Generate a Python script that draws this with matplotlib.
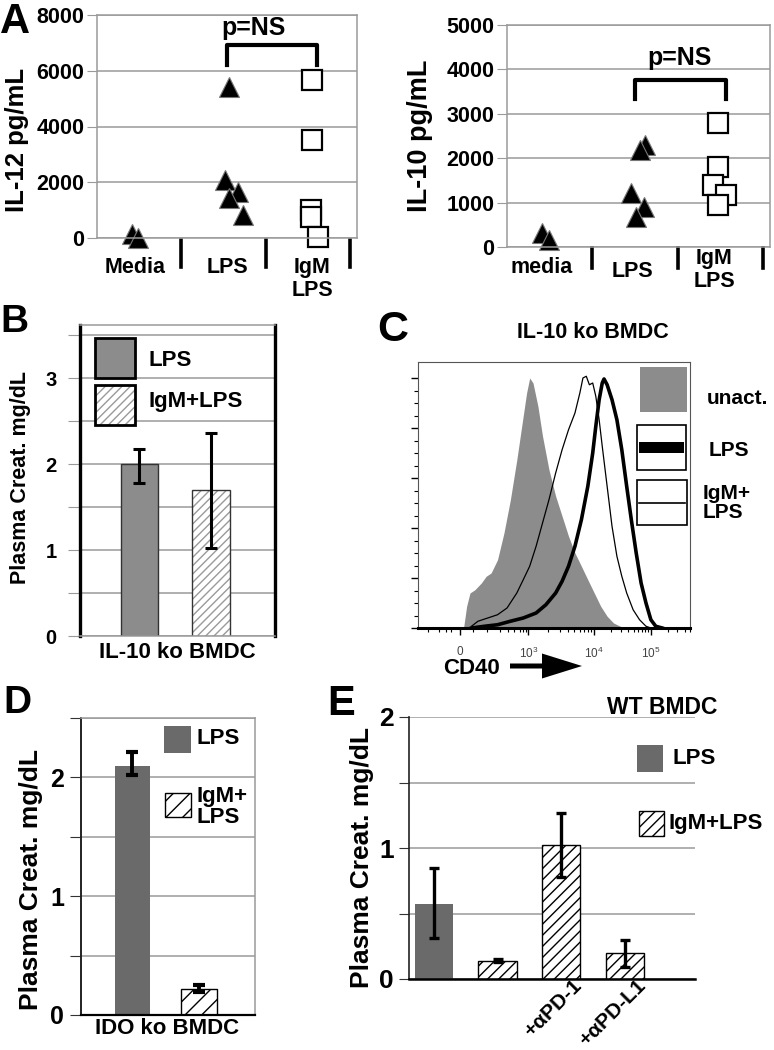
import matplotlib
matplotlib.use("Agg")
import matplotlib.pyplot as plt
import numpy as np
from matplotlib.patches import Rectangle, FancyArrow
from matplotlib.transforms import blended_transform_factory

plt.rcParams['font.family'] = ['Liberation Sans', 'DejaVu Sans']
plt.rcParams['font.weight'] = 'bold'
plt.rcParams['hatch.linewidth'] = 1.0

W, H = 774, 1050

# ---------------- data ----------------
# A: IL-12 (pg/mL), x = category position with the jitter seen in the figure
a1_cats = ['Media', 'LPS', 'IgM\nLPS']
a1_tri_x = [0.91, 0.99, 2.06, 2.02, 2.17, 2.06, 2.23]
a1_tri_y = [150, 0, 5400, 2080, 1650, 1430, 830]
a1_sq_x = [3.05, 3.05, 3.04, 3.04, 3.12]
a1_sq_y = [5670, 3520, 1000, 750, 40]

# A: IL-10 (pg/mL)
a2_cats = ['media', 'LPS', 'IgM\nLPS']
a2_tri_x = [0.91, 0.99, 2.12, 2.06, 1.95, 2.11, 2.01]
a2_tri_y = [315, 160, 2300, 2180, 1215, 900, 680]
a2_sq_x = [2.97, 2.97, 2.91, 3.06, 2.97]
a2_sq_y = [2790, 1800, 1395, 1170, 945]

# B: IL-10 ko BMDC, plasma creatinine
b_groups = ['LPS', 'IgM+LPS']
b_mean = [2.0, 1.70]
b_low = [1.78, 1.03]
b_high = [2.18, 2.36]

# C: CD40 histograms (channel, % of max)
c_unact_x = [177, 189, 202, 221, 246, 265, 284, 309, 334, 359, 384, 403, 422, 434, 447,
             466, 484, 509, 535, 560, 585, 610, 635, 660, 685, 710, 735, 760, 786, 811]
c_unact_y = [0, 8.7, 14, 15.3, 18, 20.7, 22, 27.3, 38, 51.3, 67.3, 80.7, 94, 100, 98,
             88.7, 76.7, 63.3, 52.7, 44.7, 36.7, 30, 24.7, 19.3, 14, 8.7, 4.7, 2, 0.7, 0]
c_igm_x = [208, 233, 271, 309, 346, 384, 409, 434, 459, 484, 509, 535, 560, 585, 610, 629,
           641, 654, 666, 679, 691, 704, 716, 735, 754, 773, 792, 811, 836, 861, 886, 905]
c_igm_y = [0.7, 2.7, 4, 5.3, 8, 14, 19.3, 24.7, 32.7, 42, 51.3, 62, 71.3, 79.3, 86, 94,
           100, 100.7, 97.3, 98, 92.7, 83.3, 72.7, 56.7, 40.7, 28.7, 20.7, 14, 7.3, 3.3, 0.7, 0]
c_lps_x = [208, 259, 309, 359, 409, 459, 497, 535, 560, 585, 610, 635, 660, 679, 691, 704,
           716, 723, 735, 754, 773, 792, 811, 829, 848, 867, 886, 905, 924, 949]
c_lps_y = [0, 0.7, 1.3, 2.7, 4, 6, 9.3, 14, 18.7, 24.7, 32.7, 43.3, 56.7, 70, 80.7, 91.3,
           98, 99.6, 97.3, 91.3, 83.3, 71.3, 56.7, 43.3, 30, 18, 10, 3.3, 0.7, 0]
c_tick_pos = [162, 429, 685, 904]
c_tick_lab = ['0', '$\\mathregular{10^3}$', '$\\mathregular{10^4}$', '$\\mathregular{10^5}$']

# D: IDO ko BMDC
d_groups = ['LPS', 'IgM+\nLPS']
d_mean = [2.10, 0.22]
d_low = [2.02, 0.19]
d_high = [2.21, 0.25]

# E: WT BMDC
e_labels = ['', '', '+αPD-1', '+αPD-L1']
e_mean = [0.57, 0.14, 1.02, 0.20]
e_low = [0.31, 0.13, 0.78, 0.09]
e_high = [0.85, 0.15, 1.27, 0.30]

LPS_GREY_B = '#8c8c8c'
LPS_GREY = '#6a6a6a'
GRID = '#9a9a9a'

fig = plt.figure(figsize=(W / 100, H / 100), dpi=100)


def px_axes(l, t, r, b):
    return fig.add_axes([l / W, 1 - b / H, (r - l) / W, (b - t) / H])


ov = fig.add_axes([0, 0, 1, 1], zorder=10)
ov.set_xlim(0, W)
ov.set_ylim(H, 0)
ov.axis('off')
ov.patch.set_visible(False)


def scatter_panel(ax, cats, cat_x, tri_x, tri_y, sq_x, sq_y, ymax, sep_y, lab_tops):
    ax.set_xlim(0.5, 3.58)
    ax.set_ylim(0, ymax)
    ax.set_yticks(np.arange(0, ymax + 1, ymax / 4 if ymax == 8000 else 1000))
    ax.grid(axis='y', color=GRID, lw=1.1)
    ax.set_axisbelow(True)
    for s in ax.spines.values():
        s.set_color(GRID)
        s.set_linewidth(1.1)
    ax.tick_params(axis='y', length=7, color=GRID, labelsize=15.5, pad=2)
    ax.set_xticks([])
    ax.plot(tri_x, tri_y, '^', ms=14, color='black', mec='#777', mew=0.8, clip_on=False)
    ax.plot(sq_x, sq_y, 's', ms=15, mfc='white', mec='black', mew=1.6, clip_on=False)
    tr = blended_transform_factory(ax.transData, ax.transAxes)
    for xs in [1.5, 2.5, 3.5]:
        ax.plot([xs, xs], sep_y, color='black', lw=2.6, transform=tr, clip_on=False)
    for xc, lab, top in zip(cat_x, cats, lab_tops):
        ax.text(xc, top, lab, transform=tr, ha='center', va='top', fontsize=15.5,
                linespacing=1.1)


# ---------------- A left ----------------
axA1 = px_axes(97, 15, 357, 238)
scatter_panel(axA1, a1_cats, [0.95, 2.05, 3.05], a1_tri_x, a1_tri_y, a1_sq_x, a1_sq_y,
              8000, [-0.01, -0.13], [-0.085, -0.085, -0.085])
axA1.plot([2.04, 2.04, 3.11, 3.11], [6210, 6930, 6930, 6210], color='black', lw=3)
axA1.text(2.36, 7540, 'p=NS', ha='center', va='center', fontsize=18)

# ---------------- A right ----------------
axA2 = px_axes(507, 25, 770, 247)
scatter_panel(axA2, a2_cats, [0.91, 1.97, 2.93], a2_tri_x, a2_tri_y, a2_sq_x, a2_sq_y,
              5000, [-0.005, -0.095], [-0.045, -0.065, -0.005])
axA2.plot([2.0, 2.0, 3.06, 3.06], [3330, 3760, 3760, 3330], color='black', lw=3)
axA2.text(2.52, 4250, 'p=NS', ha='center', va='center', fontsize=18)

ov.text(0, 33, 'A', fontsize=30, ha='left', va='baseline')
ov.text(17, 140, 'IL-12 pg/mL', rotation=90, ha='center', va='center', fontsize=18.5)
ov.text(420, 136, 'IL-10 pg/mL', rotation=90, ha='center', va='center', fontsize=19.5)

# ---------------- B ----------------
axB = px_axes(80, 325, 275, 636)
xb = np.arange(len(b_mean))
axB.set_xlim(-0.83, 1.895)
axB.set_ylim(0, 3.62)
axB.set_yticks(np.arange(0, 3.6, 0.5))
axB.set_yticklabels(['0', '', '1', '', '2', '', '3', ''])
axB.grid(axis='y', color=GRID, lw=1.1)
axB.set_axisbelow(True)
axB.tick_params(axis='y', length=9, color=GRID, labelsize=14.5, pad=8)
axB.set_xticks([])
for side in ['left', 'right']:
    axB.spines[side].set_color('black')
    axB.spines[side].set_linewidth(2.4)
for side in ['top', 'bottom']:
    axB.spines[side].set_color(GRID)
    axB.spines[side].set_linewidth(1.1)
axB.bar(xb[0], b_mean[0], width=0.52, color=LPS_GREY_B, edgecolor='#333', lw=1)
axB.bar(xb[1], b_mean[1], width=0.52, color='white', edgecolor='#9a9a9a', hatch='////', lw=0)
axB.bar(xb[1], b_mean[1], width=0.52, fill=False, edgecolor='#333', lw=1)
axB.errorbar(xb, b_mean, yerr=[np.subtract(b_mean, b_low), np.subtract(b_high, b_mean)],
             fmt='none', ecolor='black', elinewidth=2.2, capsize=4.5, capthick=2.2)
ov.add_patch(Rectangle((95, 338), 40, 40, facecolor=LPS_GREY_B, edgecolor='black', lw=2))
ov.add_patch(Rectangle((95, 385), 40, 40, facecolor='white', edgecolor='#9a9a9a',
                       hatch='////', lw=0))
ov.add_patch(Rectangle((95, 385), 40, 40, fill=False, edgecolor='black', lw=2))
ov.text(148, 361, b_groups[0], ha='left', va='center', fontsize=16)
ov.text(148, 402, b_groups[1], ha='left', va='center', fontsize=16)
ov.text(177, 652, 'IL-10 ko BMDC', ha='center', va='center', fontsize=16)
ov.text(0, 332, 'B', fontsize=28, ha='left', va='baseline')
ov.text(21, 478, 'Plasma Creat. mg/dL', rotation=90, ha='center', va='center', fontsize=15.5)

# ---------------- C ----------------
axC = px_axes(418, 362, 690, 628)
axC.set_xlim(0, 1024)
axC.set_ylim(0, 106.4)
axC.fill_between(c_unact_x, c_unact_y, color='#8c8c8c', lw=0)
axC.plot(c_igm_x, c_igm_y, color='black', lw=0.9)
axC.plot(c_lps_x, c_lps_y, color='black', lw=2.6)
axC.set_yticks(np.arange(0, 101, 20))
axC.set_yticks(np.arange(0, 101, 5), minor=True)
axC.set_yticklabels([])
axC.set_xticks(c_tick_pos)
axC.set_xticklabels(c_tick_lab, fontsize=8.5, color='#444', fontweight='normal')
minor_x = [40, 80, 110, 130, 215, 270, 320, 350, 375, 395, 410, 420]
for a, b_ in zip(c_tick_pos[1:-1], c_tick_pos[2:]):
    minor_x += [a + (b_ - a) * np.log10(k) for k in range(2, 10)]
minor_x += [904 + 219 * np.log10(k) for k in range(2, 6)]
axC.set_xticks(minor_x, minor=True)
axC.tick_params(which='major', length=5, width=1, color='black', pad=8)
axC.tick_params(which='minor', length=3, width=0.8, color='black')
for side in ['left', 'top', 'right']:
    axC.spines[side].set_color('#555')
    axC.spines[side].set_linewidth(0.8)
axC.spines['bottom'].set_linewidth(2.2)
ov.add_patch(Rectangle((640, 367), 47, 45, facecolor='#8c8c8c', lw=0))
ov.add_patch(Rectangle((637, 425), 49, 45, facecolor='white', edgecolor='black', lw=1.2))
ov.add_patch(Rectangle((639, 442), 45, 11, facecolor='black', lw=0))
ov.add_patch(Rectangle((637, 480), 50, 45, facecolor='white', edgecolor='black', lw=1.2))
ov.plot([639, 685], [503, 503], color='black', lw=1.2)
ov.text(707, 398, 'unact.', ha='left', va='center', fontsize=15)
ov.text(709, 450, 'LPS', ha='left', va='center', fontsize=15)
ov.text(703, 503, 'IgM+\nLPS', ha='left', va='center', fontsize=15, linespacing=1.05)
ov.text(593, 333, 'IL-10 ko BMDC', ha='center', va='center', fontsize=15.5)
ov.text(471, 668, 'CD40', ha='center', va='center', fontsize=16)
ov.add_patch(FancyArrow(510, 666, 72, 0, width=5, head_width=25, head_length=40,
                        length_includes_head=True, color='black', lw=0))
ov.text(377, 341, 'C', fontsize=31, ha='left', va='baseline')

# ---------------- D ----------------
axD = px_axes(81, 718, 255, 1015)
xd = np.arange(len(d_mean))
axD.set_xlim(-0.77, 1.84)
axD.set_ylim(0, 2.5)
axD.set_yticks(np.arange(0, 2.6, 0.5))
axD.set_yticklabels(['0', '', '1', '', '2', ''])
axD.grid(axis='y', color=GRID, lw=1.1)
axD.set_axisbelow(True)
axD.tick_params(axis='y', length=8, color='#333', labelsize=18, pad=4)
axD.set_xticks([])
for side in ['top', 'right']:
    axD.spines[side].set_color(GRID)
    axD.spines[side].set_linewidth(1.1)
axD.spines['left'].set_color('#222')
axD.spines['left'].set_linewidth(1.4)
axD.spines['bottom'].set_linewidth(1.6)
axD.bar(xd[0], d_mean[0], width=0.53, color=LPS_GREY, lw=0)
axD.bar(xd[1], d_mean[1], width=0.53, color='white', edgecolor='black', hatch='//', lw=1)
axD.errorbar(xd, d_mean, yerr=[np.subtract(d_mean, d_low), np.subtract(d_high, d_mean)],
             fmt='none', ecolor='black', elinewidth=2.8, capsize=4.5, capthick=3)
ov.add_patch(Rectangle((164, 726), 27, 27, facecolor=LPS_GREY, lw=0))
ov.add_patch(Rectangle((165, 793), 26, 24, facecolor='white', edgecolor='black',
                       hatch='//', lw=1))
ov.text(197, 739, d_groups[0], ha='left', va='center', fontsize=16)
ov.text(197, 807, d_groups[1], ha='left', va='center', fontsize=16, linespacing=1.05)
ov.text(167, 1028, 'IDO ko BMDC', ha='center', va='center', fontsize=16)
ov.text(3, 713, 'D', fontsize=28, ha='left', va='baseline')
ov.text(31, 879, 'Plasma Creat. mg/dL', rotation=90, ha='center', va='center', fontsize=19)

# ---------------- E ----------------
axE = px_axes(409, 717, 695, 979)
xe = np.arange(len(e_mean))
axE.set_xlim(-0.39, 4.10)
axE.set_ylim(0, 2)
axE.set_yticks(np.arange(0, 2.1, 0.5))
axE.set_yticklabels(['0', '', '1', '', '2'])
axE.grid(axis='y', color=GRID, lw=1.1)
axE.set_axisbelow(True)
axE.tick_params(axis='y', length=7, color='#333', labelsize=19, pad=4)
axE.set_xticks([])
for side in ['top', 'right']:
    axE.spines[side].set_visible(False)
axE.spines['left'].set_color('#222')
axE.spines['left'].set_linewidth(1.2)
axE.spines['bottom'].set_linewidth(1.8)
axE.bar(xe[0], e_mean[0], width=0.6, color=LPS_GREY, lw=0)
axE.bar(xe[1:], e_mean[1:], width=0.6, color='white', edgecolor='black', hatch='///', lw=1)
axE.errorbar(xe, e_mean, yerr=[np.subtract(e_mean, e_low), np.subtract(e_high, e_mean)],
             fmt='none', ecolor='black', elinewidth=2.4, capsize=3.5, capthick=2.4)
tr_e = blended_transform_factory(axE.transData, axE.transAxes)
for xi, lab in zip(xe, e_labels):
    if lab:
        axE.text(xi + 0.17, 0.01, lab, transform=tr_e, rotation=45, ha='right', va='top',
                 rotation_mode='anchor', fontsize=15)
ov.add_patch(Rectangle((637, 745), 26, 27, facecolor=LPS_GREY, lw=0))
ov.add_patch(Rectangle((639, 811), 25, 25, facecolor='white', edgecolor='black',
                       hatch='///', lw=1))
ov.text(673, 758, 'LPS', ha='left', va='center', fontsize=16)
ov.text(668, 823, 'IgM+LPS', ha='left', va='center', fontsize=16)
ov.text(662, 708, 'WT BMDC', ha='center', va='center', fontsize=16.5)
ov.text(327, 715, 'E', fontsize=30, ha='left', va='baseline')
ov.text(362, 857, 'Plasma Creat. mg/dL', rotation=90, ha='center', va='center', fontsize=19)

fig.savefig('out.png', dpi=100)
